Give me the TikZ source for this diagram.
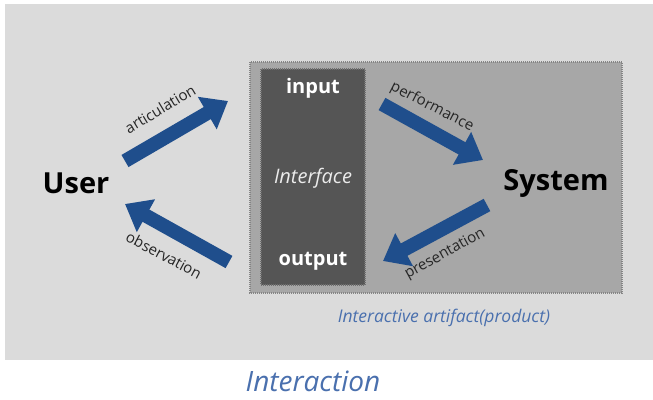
\documentclass[tikz,border=0pt]{standalone}
\usepackage{fontspec}
\setmainfont{Open Sans}
\usetikzlibrary{arrows.meta}
\definecolor{panel}{HTML}{DBDBDB}
\definecolor{artifact}{HTML}{A7A7A7}
\definecolor{artifactedge}{HTML}{858585}
\definecolor{iface}{HTML}{555555}
\definecolor{ifaceedge}{HTML}{707070}
\definecolor{flow}{HTML}{1F4E8C}
\definecolor{captionblue}{HTML}{4A70AE}
\begin{document}
\begin{tikzpicture}[x=1pt,y=-1pt,
  flowarrow/.style={draw=flow,line width=14pt,-{Triangle[length=24pt,width=36pt]}},
  flowlabel/.style={font=\fontsize{15}{17}\selectfont,text=black!85,inner sep=0pt},
  actor/.style={font=\fontsize{29}{32}\selectfont\bfseries,text=black,inner sep=0pt},
  port/.style={font=\fontsize{20}{24}\selectfont\bfseries,text=white,inner sep=0pt}]
  \useasboundingbox (0,0) rectangle (653,399);
  \fill[white] (0,0) rectangle (653,399);
  % light panel behind the diagram
  \fill[panel] (5,4) rectangle (653,360);
  % interactive artifact and its interface
  \draw[fill=artifact,draw=artifactedge,line width=1.5pt,dash pattern=on 1pt off 1pt] (250,62) rectangle (622,293);
  \draw[fill=iface,draw=ifaceedge,line width=1.2pt,dash pattern=on 1pt off 1pt] (261,69) rectangle (365,285);
  \node[port] (in) at (313,88) {input};
  \node[font=\fontsize{20}{24}\selectfont\itshape,text=white!92!black,inner sep=0pt] (iface) at (313,178) {Interface};
  \node[port] (out) at (313,261) {output};
  % actors
  \node[actor] (user) at (76,183) {User};
  \node[actor] (sys) at (556,183) {System};
  % arrow end points
  \coordinate (a1) at (125,161);
  \coordinate (a2) at (228,101);
  \coordinate (p1) at (382,104);
  \coordinate (p2) at (483,160);
  \coordinate (r1) at (487,205);
  \coordinate (r2) at (383,261);
  \coordinate (o1) at (229,262);
  \coordinate (o2) at (125,204);
  \draw[flowarrow] (a1) -- (a2);
  \draw[flowarrow] (p1) -- (p2);
  \draw[flowarrow] (r1) -- (r2);
  \draw[flowarrow] (o1) -- (o2);
  % arrow labels
  \node[flowlabel,rotate=31] (lart) at (160,109) {articulation};
  \node[flowlabel,rotate=-27] (lperf) at (432,107) {performance};
  \node[flowlabel,rotate=29] (lpres) at (445,254) {presentation};
  \node[flowlabel,rotate=-28] (lobs) at (164,255) {observation};
  % captions
  \node[font=\fontsize{17.5}{20}\selectfont\itshape,text=captionblue,inner sep=0pt] (cap) at (444,318) {Interactive artifact(product)};
  \node[font=\fontsize{28}{32}\selectfont\itshape,text=captionblue,inner sep=0pt] (title) at (313,381) {Interaction};
\end{tikzpicture}
\end{document}
